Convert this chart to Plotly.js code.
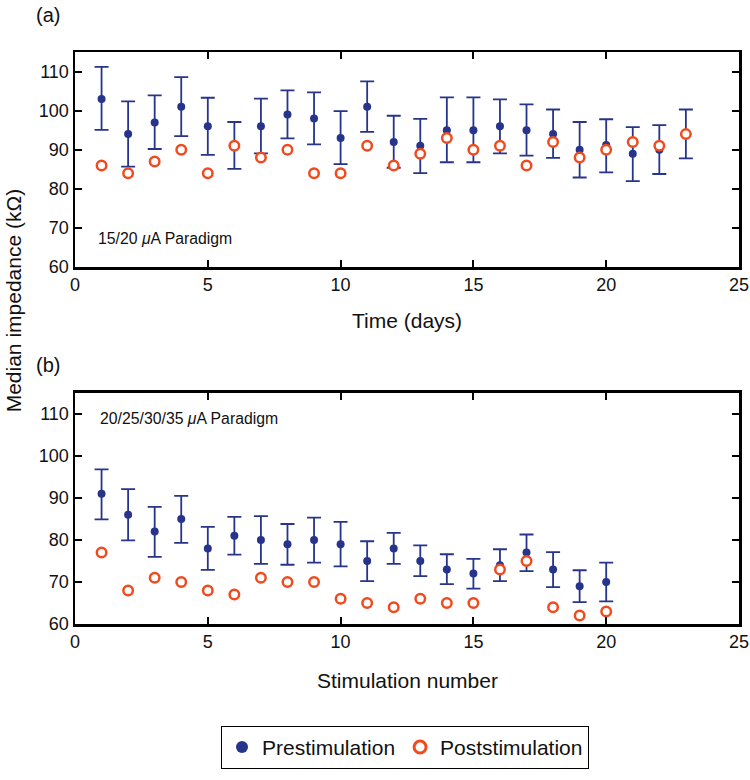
<!DOCTYPE html>
<html>
<head>
<meta charset="utf-8">
<script src="https://cdn.plot.ly/plotly-3.0.1.min.js"></script>
<style>html,body{margin:0;padding:0;background:#fff;}#chart{width:750px;height:780px;}</style>
</head>
<body>
<div id="chart"></div>
<script>
// Panel (a): 15/20 uA paradigm, time in days
var daysA = [1,2,3,4,5,6,7,8,9,10,11,12,13,14,15,16,17,18,19,20,21,22,23];
var preA  = [103,94,97,101,96,91,96,99,98,93,101,92,91,95,95,96,95,94,90,91.2,89,90,94];
var preA_hi = [111.2,102.4,103.9,108.6,103.3,97.1,103.1,105.2,104.7,99.9,107.5,98.7,97.9,103.4,103.4,102.9,101.6,100.3,97.1,97.8,95.8,96.3,100.3];
var preA_lo = [95.1,85.7,90.2,93.5,88.7,85.1,89.1,92.9,91.4,86.3,94.6,85.4,84.0,86.8,86.8,89.1,88.5,87.9,82.9,84.2,82.0,83.8,87.8];
var postA = [86,84,87,90,84,91,88,90,84,84,91,86,89,93,90,91,86,92,88,90,92,91,94];

// Panel (b): 20/25/30/35 uA paradigm, stimulation number
var stimB = [1,2,3,4,5,6,7,8,9,10,11,12,13,14,15,16,17,18,19,20];
var preB  = [91,86,82,85,78,81,80,79,80,79,75,78,75,73,72,74,77,73,69,70];
var preB_hi = [96.8,92.1,87.9,90.5,83.1,85.5,85.7,83.8,85.3,84.3,79.7,81.7,78.7,76.6,75.5,77.8,81.3,77.1,72.8,74.6];
var preB_lo = [84.9,79.9,76.0,79.3,72.9,76.5,74.3,74.1,74.6,73.7,70.2,74.3,71.4,69.5,68.4,70.2,72.6,68.8,65.2,65.4];
var postB = [77,68,71,70,68,67,71,70,70,66,65,64,66,65,65,73,75,64,62,63];

var xTicks = [0,5,10,15,20,25];
var yTicks = [60,70,80,90,100,110];

function diff(a, b) { return a.map(function(v, i){ return v - b[i]; }); }

var navy = '#27348B';
var orange = '#F04A1E';
var FONT = 'Liberation Sans, Arial, sans-serif';

function preTrace(x, y, hi, lo, xa, ya) {
  return {x: x, y: y, type: 'scatter', mode: 'markers', name: 'Prestimulation',
    xaxis: xa, yaxis: ya, showlegend: false,
    marker: {color: navy, size: 8, symbol: 'circle'},
    error_y: {type: 'data', symmetric: false, array: diff(hi, y), arrayminus: diff(y, lo),
              color: navy, thickness: 1.8, width: 7}};
}
function postTrace(x, y, xa, ya) {
  return {x: x, y: y, type: 'scatter', mode: 'markers', name: 'Poststimulation',
    xaxis: xa, yaxis: ya, showlegend: false,
    marker: {color: '#fff', size: 9.5, symbol: 'circle', line: {color: orange, width: 2.5}}};
}

var traces = [
  preTrace(daysA, preA, preA_hi, preA_lo, 'x', 'y'),
  postTrace(daysA, postA, 'x', 'y'),
  preTrace(stimB, preB, preB_hi, preB_lo, 'x2', 'y2'),
  postTrace(stimB, postB, 'x2', 'y2'),
  // legend-only entries (no data) with larger symbols, as in the reference key
  {x: [null], y: [null], type: 'scatter', mode: 'markers', name: 'Prestimulation', xaxis: 'x', yaxis: 'y',
   marker: {color: navy, size: 12, symbol: 'circle'}},
  {x: [null], y: [null], type: 'scatter', mode: 'markers', name: 'Poststimulation', xaxis: 'x', yaxis: 'y',
   marker: {color: '#fff', size: 12, symbol: 'circle', line: {color: orange, width: 3}}}
];

var tickFont = {family: FONT, size: 18, color: '#111'};
function xax(anchor) {
  return {anchor: anchor, domain: [0, 1], range: [0, 25], tickvals: xTicks, ticktext: xTicks.map(String),
    ticks: 'inside', ticklen: 7, tickwidth: 2, tickcolor: '#000', mirror: 'allticks',
    showline: true, linewidth: 2.5, linecolor: '#000', showgrid: false, zeroline: false,
    tickfont: tickFont};
}
function yax(anchor, domain) {
  return {anchor: anchor, domain: domain, range: [60, 115], tickvals: yTicks, ticktext: yTicks.map(String),
    ticks: 'inside', ticklen: 7, tickwidth: 2, tickcolor: '#000', mirror: 'allticks',
    showline: true, linewidth: 2.5, linecolor: '#000', showgrid: false, zeroline: false,
    tickfont: tickFont};
}

function ann(text, x, y, size, extra) {
  var a = {text: text, xref: 'paper', yref: 'paper', x: x, y: y, xanchor: 'center', yanchor: 'middle',
    showarrow: false, font: {family: FONT, size: size, color: '#111'}};
  for (var k in extra) a[k] = extra[k];
  return a;
}

var layout = {
  width: 750, height: 780,
  margin: {l: 75, r: 11, t: 10, b: 10},
  paper_bgcolor: '#fff', plot_bgcolor: '#fff',
  font: {family: FONT, color: '#111'},
  xaxis: xax('y'),
  yaxis: yax('x', [0.6618, 0.9447]),
  xaxis2: xax('y2'),
  yaxis2: yax('x2', [0.1921, 0.4961]),
  showlegend: true,
  legend: {orientation: 'h', x: 0.497, xanchor: 'center', y: 0.058, yanchor: 'top',
    bordercolor: '#000', borderwidth: 1, bgcolor: '#fff',
    font: {family: FONT, size: 21, color: '#111'}},
  annotations: [
    ann('Median impedance (kΩ)', -0.093, 0.617, 21, {textangle: -90}),
    ann('Time (days)', 0.5, 0.5908, 21),
    ann('Stimulation number', 0.5, 0.1184, 21),
    ann('(a)', -0.061, 0.993, 20, {xanchor: 'left'}),
    ann('(b)', -0.061, 0.533, 20, {xanchor: 'left'}),
    {text: '15/20 <i>μ</i>A Paradigm', xref: 'x', yref: 'y', x: 0.8, y: 67.2, xanchor: 'left', yanchor: 'middle',
     showarrow: false, font: {family: FONT, size: 15.8, color: '#111'}},
    {text: '20/25/30/35 <i>μ</i>A Paradigm', xref: 'x2', yref: 'y2', x: 0.85, y: 108.9, xanchor: 'left', yanchor: 'middle',
     showarrow: false, font: {family: FONT, size: 15.8, color: '#111'}}
  ]
};

Plotly.newPlot('chart', traces, layout, {displayModeBar: false, staticPlot: true});
</script>
</body>
</html>
